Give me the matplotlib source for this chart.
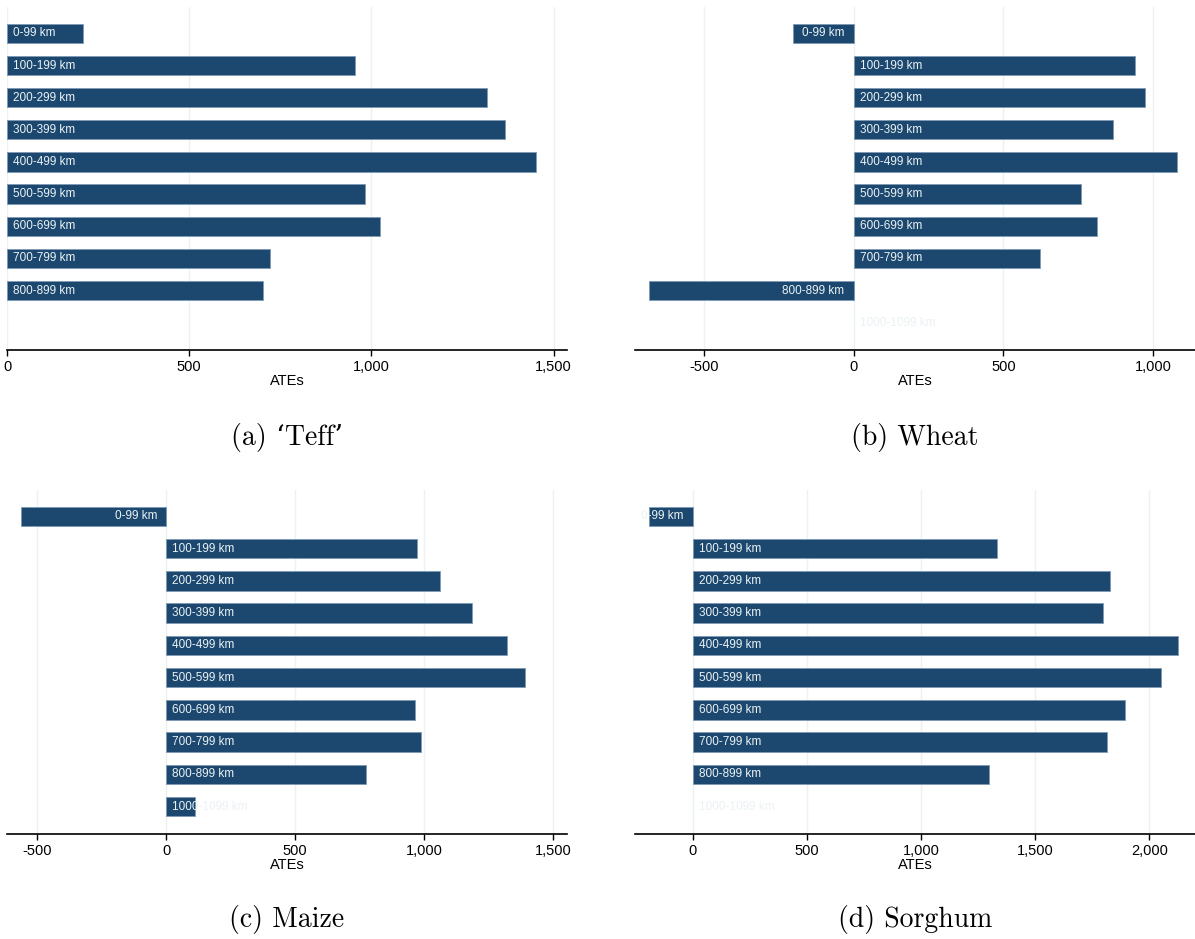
import numpy as np
import matplotlib
matplotlib.use("Agg")
import matplotlib.pyplot as plt
from matplotlib.ticker import FuncFormatter

plt.rcParams["font.family"] = ["Liberation Sans", "DejaVu Sans"]

# distance bands (top to bottom)
bands = ["0-99 km", "100-199 km", "200-299 km", "300-399 km", "400-499 km",
         "500-599 km", "600-699 km", "700-799 km", "800-899 km", "1000-1099 km"]

# average treatment effects by crop; NaN = band not estimated
teff = [208, 954, 1318, 1367, 1451, 983, 1023, 722, 703, np.nan]
wheat = [-203, 940, 972, 865, 1080, 759, 814, 623, -682, 0]
maize = [-562, 974, 1062, 1184, 1322, 1391, 964, 989, 776, 113]
sorghum = [-191, 1334, 1826, 1795, 2126, 2053, 1894, 1816, 1297, 0]

captions = ["(a) ‘Teff’", "(b) Wheat", "(c) Maize", "(d) Sorghum"]
ticks = [[0, 500, 1000, 1500],
         [-500, 0, 500, 1000],
         [-500, 0, 500, 1000, 1500],
         [0, 500, 1000, 1500, 2000]]
xlims = [(0, 1537), (-730, 1140), (-617, 1554), (-253, 2200)]

BAR = "#1c4870"
EDGE = "#7e9ab3"
LIGHT = "#eaf2f3"

W, H = 1195, 939
fig = plt.figure(figsize=(W / 100, H / 100), dpi=100)

# axes boxes in pixels: left, top, right, bottom
boxes = [(7, 7, 567, 350), (635, 7, 1195, 350),
         (7, 490, 567, 834), (635, 490, 1195, 834)]
cap_y = [437, 437, 919, 919]

fmt = FuncFormatter(lambda v, p: f"{v:,.0f}")

for k, (vals, cap) in enumerate(zip([teff, wheat, maize, sorghum], captions)):
    l, t, r, b = boxes[k]
    ax = fig.add_axes([l / W, 1 - b / H, (r - l) / W, (b - t) / H])
    y = np.arange(len(bands))
    v = np.array(vals, dtype=float)
    drawn = np.isfinite(v) & (v != 0)
    ax.barh(y[drawn], v[drawn], height=0.6, color=BAR, edgecolor=EDGE,
            linewidth=0.6, zorder=2)
    for yi, (lab, val) in enumerate(zip(bands, v)):
        if np.isnan(val):
            continue
        if val < 0:
            ax.annotate(lab, (0, yi), xytext=(-6.5, 0), textcoords="offset points",
                        ha="right", va="center", color=LIGHT, fontsize=8.5, zorder=3)
        else:
            ax.annotate(lab, (0, yi), xytext=(4.5, 0), textcoords="offset points",
                        ha="left", va="center", color=LIGHT, fontsize=8.5, zorder=3)
    ax.set_ylim(9.85, -0.82)
    ax.set_xlim(*xlims[k])
    ax.set_xticks(ticks[k])
    ax.xaxis.set_major_formatter(fmt)
    ax.set_yticks([])
    for s in ["top", "right", "left"]:
        ax.spines[s].set_visible(False)
    ax.spines["bottom"].set_linewidth(1.2)
    ax.spines["bottom"].set_color("black")
    ax.tick_params(axis="x", length=4, width=1, pad=3, labelsize=10.5)
    ax.grid(axis="x", color=LIGHT, linewidth=1, zorder=0)
    ax.set_axisbelow(True)
    ax.set_xlabel("ATEs", fontsize=10.5, labelpad=0.5)
    fig.text(((l + r) / 2) / W, 1 - cap_y[k] / H, cap, ha="center", va="center",
             fontsize=20, family=["cmr10", "DejaVu Serif"])

fig.savefig("out.png", dpi=100, facecolor="white")
